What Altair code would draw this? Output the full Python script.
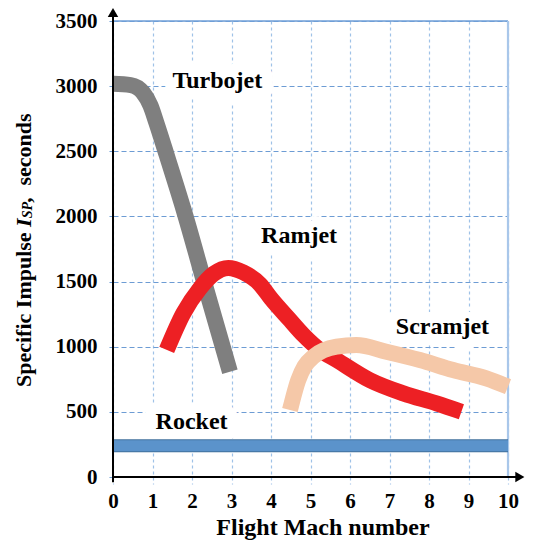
import altair as alt
import pandas as pd

# ---------------- data ----------------
turbo_mach = [0.0, 0.45, 0.76, 0.95, 1.10, 1.36, 1.78, 2.37, 2.96]
turbo_isp = [3018, 3008, 2950, 2850, 2717, 2470, 2060, 1430, 808]

ram_mach = [1.36, 1.78, 2.2, 2.55, 2.92, 3.3, 3.72, 4.0, 4.48, 4.82, 5.24, 5.66, 6.5, 7.35, 8.19, 8.82]
ram_isp = [975, 1256, 1448, 1560, 1605, 1570, 1480, 1370, 1205, 1090, 975, 898, 744, 642, 565, 501]

scram_mach = [4.48, 4.69, 4.85, 5.07, 5.66, 6.16, 6.92, 7.77, 8.61, 9.45, 10.0]
scram_isp = [514, 744, 850, 923, 1000, 1013, 962, 898, 821, 757, 693]

rocket_mach = [0.0, 10.0]
rocket_isp = [240, 240]

label_text = ["Turbojet", "Ramjet", "Scramjet", "Rocket"]
label_mach = [2.64, 4.71, 8.34, 1.99]
label_isp = [3040, 1846, 1155, 423]

x_ticks = [0, 1, 2, 3, 4, 5, 6, 7, 8, 9, 10]
y_ticks = [0, 500, 1000, 1500, 2000, 2500, 3000, 3500]

x_title = "Flight Mach number"
y_title_parts = ["Specific Impulse", "I", "SP", ",", "seconds"]

# ---------------- styling ----------------
FONT = "Liberation Serif"
W, H = 395, 456
XMAX, YMAX = 10, 3500

xs = alt.Scale(domain=[0, XMAX], nice=False, zero=False)
ys = alt.Scale(domain=[0, YMAX], nice=False, zero=False)

x_axis = alt.Axis(
    values=x_ticks, grid=True, gridColor="#9fc2e7", gridDash=[3, 3], gridWidth=1.2,
    domain=False, ticks=True, tickColor="#9fc2e7", tickDash=[3, 3], tickSize=7, tickWidth=1.2,
    labelFont=FONT, labelFontWeight="bold", labelFontSize=21, labelColor="black",
    labelPadding=6, labelFlush=False, format="d", title=None,
)
y_axis = alt.Axis(
    values=y_ticks, grid=True, gridColor="#6d9cd4", gridDash=[5, 3], gridWidth=1.1,
    domain=False, ticks=True, tickColor="#6d9cd4", tickDash=[5, 3], tickSize=4,
    labelFont=FONT, labelFontWeight="bold", labelFontSize=21, labelColor="black",
    labelPadding=12, labelFlush=False, format="d", title=None,
)

X = alt.X("mach:Q", scale=xs, axis=x_axis)
Y = alt.Y("isp:Q", scale=ys, axis=y_axis)


def series(mach, isp):
    return pd.DataFrame({"mach": mach, "isp": isp})


# plot frame (solid top and right borders)
frame = pd.DataFrame({
    "mach": [0, XMAX], "mach2": [XMAX, XMAX],
    "isp": [YMAX, 0], "isp2": [YMAX, YMAX],
    "col": ["top", "right"],
})
frame_layer = alt.Chart(frame).mark_rule().encode(
    x=X, x2="mach2:Q", y=Y, y2="isp2:Q",
    color=alt.Color("col:N", scale=alt.Scale(domain=["top", "right"], range=["#6f9fd8", "#a9c7ea"]), legend=None),
    strokeWidth=alt.StrokeWidth("col:N", scale=alt.Scale(domain=["top", "right"], range=[1.3, 2.2]), legend=None),
)

labels = pd.DataFrame({"mach": label_mach, "isp": label_isp, "text": label_text})
halo = alt.Chart(labels).mark_text(
    font=FONT, fontSize=24, fontWeight="bold", stroke="white", strokeWidth=22,
    strokeJoin="round", fill="white", baseline="middle", align="center",
).encode(x=X, y=Y, text="text:N")

turbo = alt.Chart(series(turbo_mach, turbo_isp)).mark_line(
    color="#7f7f7f", strokeWidth=16, interpolate="monotone", strokeCap="butt"
).encode(x=X, y=Y, order="mach:Q")

ram = alt.Chart(series(ram_mach, ram_isp)).mark_line(
    color="#ed2024", strokeWidth=16, interpolate="monotone", strokeCap="butt"
).encode(x=X, y=Y, order="mach:Q")

scram = alt.Chart(series(scram_mach, scram_isp)).mark_line(
    color="#f5c8a8", strokeWidth=16, interpolate="monotone", strokeCap="butt"
).encode(x=X, y=Y, order="mach:Q")

rocket_edge = alt.Chart(series(rocket_mach, rocket_isp)).mark_line(
    color="#41719c", strokeWidth=13, strokeCap="butt"
).encode(x=X, y=Y)
rocket = alt.Chart(series(rocket_mach, rocket_isp)).mark_line(
    color="#5b93cb", strokeWidth=11, strokeCap="butt"
).encode(x=X, y=Y)

text_layer = alt.Chart(labels).mark_text(
    font=FONT, fontSize=24, fontWeight="bold", color="black", baseline="middle", align="center",
).encode(x=X, y=Y, text="text:N")

# axis lines with arrows
axes_lines = pd.DataFrame({
    "mach": [0, 0], "mach2": [10.3, 0],
    "isp": [0, -40], "isp2": [0, 3570],
})
axis_rules = alt.Chart(axes_lines).mark_rule(color="black", strokeWidth=2).encode(
    x=X, x2="mach2:Q", y=Y, y2="isp2:Q"
)
arrow_up = alt.Chart(series([0], [3565])).mark_point(
    shape="triangle-up", filled=True, color="black", size=110, opacity=1
).encode(x=X, y=Y)
arrow_right = alt.Chart(series([10.3], [0])).mark_point(
    shape="triangle-right", filled=True, color="black", size=110, opacity=1
).encode(x=X, y=Y)

# x title as a text mark (placed close to the bottom edge)
xtitle = alt.Chart(pd.DataFrame({"t": [x_title]})).mark_text(
    font=FONT, fontSize=24, fontWeight="bold", color="black", align="center", baseline="alphabetic",
).encode(text="t:N", x=alt.value(210), y=alt.value(514))

# rotated y title with italic subscript
FS, FS_SUB = 22, 14
W_TIMES = {"Specific Impulse": 7028, " ": 250, "I": 389, "SP": 1167, ",": 250}
y0 = 366
xt = -89
pos_specific = y0
pos_I = pos_specific - (W_TIMES["Specific Impulse"] + W_TIMES[" "]) * FS / 1000
pos_SP = pos_I - W_TIMES["I"] * FS / 1000
pos_comma = pos_SP - W_TIMES["SP"] * FS_SUB / 1000
pos_seconds = pos_comma - (W_TIMES[","] + 2 * W_TIMES[" "]) * FS / 1000


def title_piece(text, ypos, xpos, size, style):
    return alt.Chart(pd.DataFrame({"t": [text]})).mark_text(
        font=FONT, fontSize=size, fontWeight="bold", fontStyle=style, color="black",
        angle=270, align="left", baseline="middle",
    ).encode(text="t:N", x=alt.value(xpos), y=alt.value(ypos))


ytitle = (
    title_piece(y_title_parts[0], pos_specific, xt, FS, "normal")
    + title_piece(y_title_parts[1], pos_I, xt, FS, "italic")
    + title_piece(y_title_parts[2], pos_SP, xt + 4, FS_SUB, "italic")
    + title_piece(y_title_parts[3], pos_comma, xt, FS, "italic")
    + title_piece(y_title_parts[4], pos_seconds, xt, FS, "normal")
)

chart = alt.layer(
    frame_layer, halo, rocket_edge, rocket, turbo, ram, scram, text_layer,
    axis_rules, arrow_up, arrow_right, xtitle, ytitle,
).properties(
    width=W, height=H,
    autosize=alt.AutoSizeParams(type="none"),
    padding={"left": 105, "top": 13, "right": 22, "bottom": 64},
).configure_view(stroke=None).configure(background="white")

chart.save("out.html", embed_options={"renderer": "svg", "actions": False})
